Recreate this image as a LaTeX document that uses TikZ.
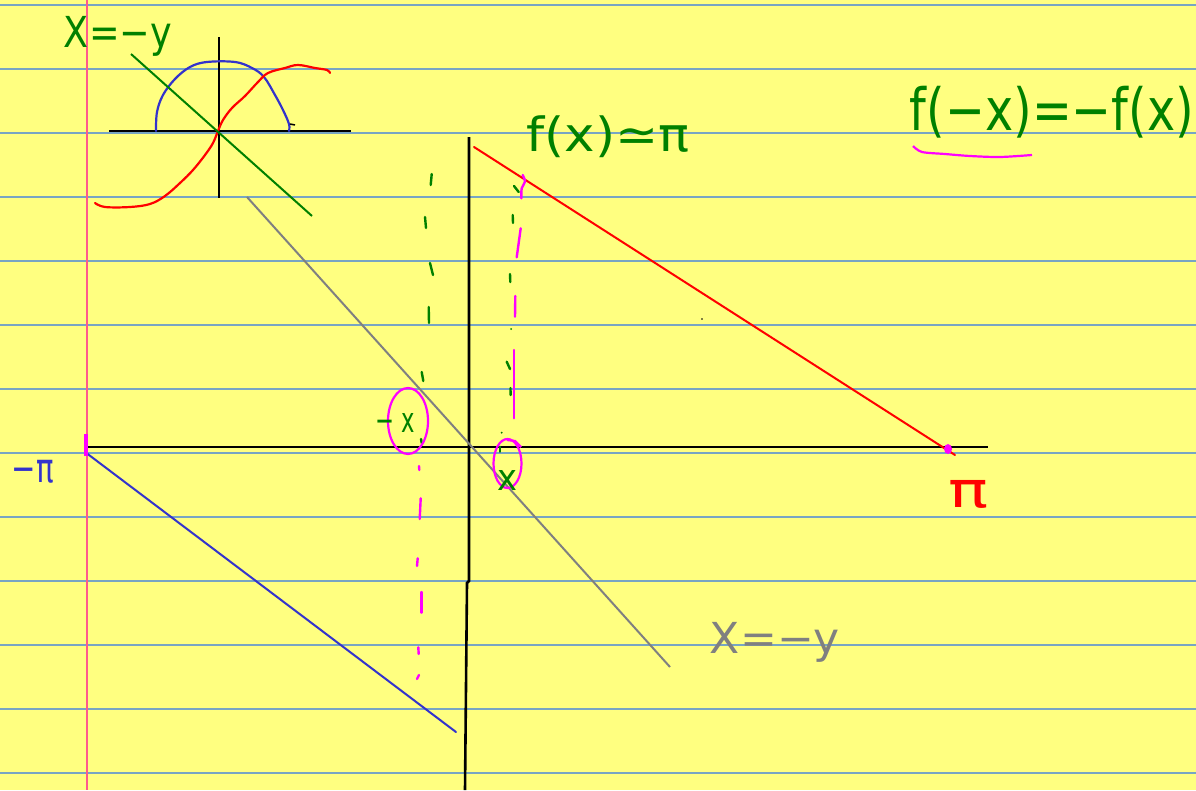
\documentclass[tikz,border=0pt]{standalone}
\usepackage{fontspec}
\setmainfont{DejaVu Sans}
\definecolor{paper}{RGB}{255,255,128}
\definecolor{rulec}{RGB}{120,165,195}
\definecolor{marg}{RGB}{255,90,140}
\definecolor{pen}{RGB}{0,128,0}
\definecolor{bpen}{RGB}{51,51,204}
\definecolor{gpen}{RGB}{128,128,128}
\definecolor{mpen}{RGB}{255,0,255}
\tikzset{
  rulel/.style={rulec,line width=1.3pt},
  axis/.style={black,line width=2.6pt},
  thin axis/.style={black,line width=2.2pt},
  gstroke/.style={pen,line width=2.4pt,line cap=round},
  mstroke/.style={mpen,line width=2.4pt,line cap=round},
  rstroke/.style={red,line width=2pt,line cap=round},
  bstroke/.style={bpen,line width=2pt,line cap=round},
  label/.style={inner sep=0pt,outer sep=0pt}
}
\begin{document}
\begin{tikzpicture}[x=1pt,y=-1pt]
\fill[paper] (0,0) rectangle (1196,790);
\useasboundingbox (0,0) rectangle (1196,790);
% ruled lines
\foreach \k in {0,...,12} \draw[rulel] (0,5+64*\k) -- (1196,5+64*\k);
% margin
\draw[marg,line width=1.6pt] (87,0) -- (87,790);

% ---- small graph (top left)
\coordinate (sO) at (219,131);
\draw[axis] (109,131) -- (351,131);
\draw[thin axis] (219,37) -- (219,198);
\draw[bstroke,line width=2.2pt] plot[smooth,tension=0.6] coordinates
  {(156,131) (157,112) (163,95) (175,79) (190,67) (207,62) (235,62) (252,68) (264,77) (275,95) (283,110) (289,124) (289,131)};
\draw[black,line width=1.5pt] (290,124) -- (295,125);
\draw[rstroke,line width=2.2pt] plot[smooth,tension=0.6] coordinates
  {(95,203) (105,207) (130,207) (150,204) (165,196) (180,183) (193,170) (205,155) (213,143) (218,131) (223,120) (232,108) (245,96) (258,82) (268,73) (285,68) (298,65) (315,68) (327,70) (330,73)};
\draw[pen,line width=2pt] (131,54) -- (312,216);
\node[label,pen] (lblxy) at (118,36) {\resizebox*{108pt}{40pt}{X=−y}};

% ---- main axes
\coordinate (xl) at (85,447);
\coordinate (xr) at (988,447);
\draw[axis] (xl) -- (xr);
\coordinate (yt) at (469,137);
\coordinate (ym) at (469,581);
\coordinate (ym2) at (467,583);
\coordinate (yb) at (465,790);
\draw[axis] (yt) -- (ym) -- (ym2) -- (yb);

% ---- function lines
\coordinate (r1) at (474,147);
\coordinate (r2) at (955,455);
\draw[rstroke] (r1) -- (r2);
\coordinate (b1) at (85,452);
\coordinate (b2) at (456,732);
\draw[bstroke] (b1) -- (b2);
\coordinate (g1) at (247,197);
\coordinate (g2) at (670,667);
\draw[gpen,line width=2pt] (g1) -- (g2);

% ---- markers on the axis
\draw[mpen,line width=3.5pt] (86,434) -- (86,456);
\fill[mpen] (948,449) ellipse (4pt and 5pt);
\fill[black] (702,319) circle (0.9pt);

% ---- green dashed guides
\foreach \a/\b in {{(431.7,174)}/{(430.7,185)},{(425,217)}/{(426,228)},{(430,263)}/{(433,275)},{(428.7,307)}/{(429,323)},{(421.7,372)}/{(423.3,381)},{(421,439)}/{(421.7,443)}}
  \draw[gstroke] \a -- \b;
\foreach \a/\b in {{(514,186)}/{(518.7,192)},{(512.7,215)}/{(513,223)},{(510,274)}/{(510.3,282)},{(506.7,361.7)}/{(510,369)},{(510.5,388)}/{(510.6,395)},{(500,446.7)}/{(500,451.7)}}
  \draw[gstroke] \a -- \b;
\fill[pen] (511,329) circle (1pt);
\fill[pen] (501.7,432.7) circle (1pt);

% ---- magenta dashed guides
\draw[mstroke] plot[smooth] coordinates {(522.7,175) (525,181.7) (521.7,188.3) (521.3,198.3)};
\foreach \a/\b in {{(520.7,228.3)}/{(516.7,257.3)},{(515.3,296)}/{(515,316.7)},{(514,350)}/{(514,418.3)}}
  \draw[mstroke] \a -- \b;
\foreach \a/\b in {{(419,466)}/{(419.3,470)},{(420.7,498.3)}/{(419.7,519)},{(417.7,558.3)}/{(417,566)},{(421.3,592)}/{(421.3,612.7)},{(418.3,647.3)}/{(418.7,654)},{(419,675)}/{(417,679)}}
  \draw[mstroke] \a -- \b;

% ---- circles around x and -x
\coordinate (cL) at (408,421);
\coordinate (cR) at (507.5,463.5);
\draw[mpen,line width=2.2pt] (cL) ellipse (20pt and 33pt);
\draw[mpen,line width=2.2pt] (cR) ellipse (14pt and 24.5pt);
\draw[mpen,line width=2.2pt] (507,440) -- (515,441) -- (521,447);

% ---- labels
\node[label,pen] (lmx) at (395,423) {\resizebox*{40pt}{19pt}{−\,\,x}};
\node[label,pen] (lx) at (507,480) {\resizebox*{20pt}{20pt}{x}};
\node[label,bpen] (lmpi) at (33,472) {\resizebox*{42pt}{23pt}{−π}};
\node[label,red] (lpi) at (968,494) {\resizebox*{40pt}{28pt}{π}};
\node[label,pen] (lfx) at (608,137) {\resizebox*{163pt}{42pt}{f(x)≃π}};
\node[label,pen] (lodd) at (1052,112) {\resizebox*{284pt}{52pt}{f(−x)=−f(x)}};
\node[label,gpen] (lgray) at (775,642) {\resizebox*{130pt}{40pt}{X=−y}};
\draw[mpen,line width=2.2pt] plot[smooth] coordinates {(913,146) (922,152) (945,154) (970,156) (1000,157) (1032,155)};
\end{tikzpicture}
\end{document}
